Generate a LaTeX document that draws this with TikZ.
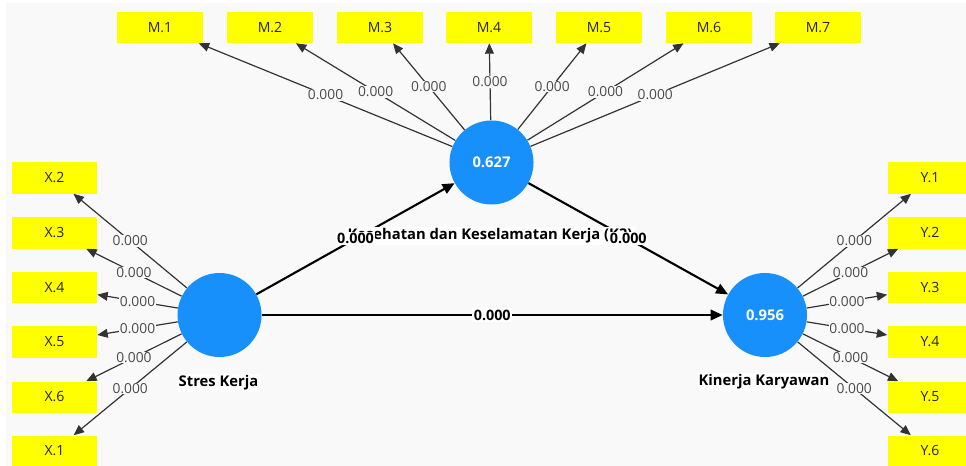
\documentclass[tikz,border=0pt]{standalone}
\usepackage{fontspec}
\setmainfont{Open Sans}
\usepackage{xcolor}
\definecolor{myellow}{HTML}{FFFF00}
\definecolor{mblue}{HTML}{1890FB}
\definecolor{mback}{HTML}{F9F9F9}
\definecolor{mgray}{HTML}{4A4A4A}
\usepackage{tikz}
\usetikzlibrary{arrows.meta}

\begin{document}
\begin{tikzpicture}[x=0.025cm, y=-0.025cm,
        ind/.style={fill=myellow, minimum width=2.125cm, minimum height=0.775cm, inner sep=0pt,
            font=\fontsize{10}{12}\selectfont, text=black!85},
        lv/.style={circle, fill=mblue, minimum size=2.1cm, inner sep=0pt, text=white,
            font=\bfseries\fontsize{10.5}{12}\selectfont},
        lvname/.style={fill=white, inner sep=1.5pt, font=\bfseries\fontsize{10.5}{12}\selectfont},
        load/.style={draw=black!80, line width=0.85pt, -{Triangle[length=2.6mm, width=2.2mm]}},
        lval/.style={fill=mback, inner sep=0.5pt, text=mgray, font=\fontsize{9.8}{11}\selectfont},
        path/.style={draw=black, line width=1.5pt, -{Triangle[length=3mm, width=2.6mm]}},
        pval/.style={fill=white, inner sep=1pt, font=\bfseries\fontsize{10.2}{12}\selectfont}]
        \useasboundingbox (0, 0) rectangle (966, 466);
        \clip (0, 0) rectangle (966, 466);
        \fill[mback] (6, 3) rectangle (966, 466);

        % indicator boxes
        \node[ind] (m1) at (160, 27.5) {M.1};
        \node[ind] (m2) at (270, 27.5) {M.2};
        \node[ind] (m3) at (380, 27.5) {M.3};
        \node[ind] (m4) at (489, 27.5) {M.4};
        \node[ind] (m5) at (599, 27.5) {M.5};
        \node[ind] (m6) at (709, 27.5) {M.6};
        \node[ind] (m7) at (818, 27.5) {M.7};

        \node[ind] (x2) at (54.5, 178) {X.2};
        \node[ind] (x3) at (54.5, 233) {X.3};
        \node[ind] (x4) at (54.5, 287.5) {X.4};
        \node[ind] (x5) at (54.5, 342) {X.5};
        \node[ind] (x6) at (54.5, 397) {X.6};
        \node[ind] (x1) at (54.5, 451) {X.1};

        \node[ind] (y1) at (930, 178) {Y.1};
        \node[ind] (y2) at (930, 233) {Y.2};
        \node[ind] (y3) at (930, 287.5) {Y.3};
        \node[ind] (y4) at (930, 342) {Y.4};
        \node[ind] (y5) at (930, 397) {Y.5};
        \node[ind] (y6) at (930, 451) {Y.6};

        % latent variables
        \node[lv] (sk) at (219.5, 315) {};
        \node[lv] (k3) at (491.5, 162.5) {0.627};
        \node[lv] (kk) at (765, 315) {0.956};

        % outer loadings
        \draw[load] (k3) -- node[lval]{0.000} (m1);
        \draw[load] (k3) -- node[lval]{0.000} (m2);
        \draw[load] (k3) -- node[lval]{0.000} (m3);
        \draw[load] (k3) -- node[lval]{0.000} (m4);
        \draw[load] (k3) -- node[lval]{0.000} (m5);
        \draw[load] (k3) -- node[lval]{0.000} (m6);
        \draw[load] (k3) -- node[lval]{0.000} (m7);

        \draw[load] (sk) -- node[lval]{0.000} (x2);
        \draw[load] (sk) -- node[lval]{0.000} (x3);
        \draw[load] (sk) -- node[lval]{0.000} (x4);
        \draw[load] (sk) -- node[lval]{0.000} (x5);
        \draw[load] (sk) -- node[lval]{0.000} (x6);
        \draw[load] (sk) -- node[lval]{0.000} (x1);

        \draw[load] (kk) -- node[lval]{0.000} (y1);
        \draw[load] (kk) -- node[lval]{0.000} (y2);
        \draw[load] (kk) -- node[lval]{0.000} (y3);
        \draw[load] (kk) -- node[lval]{0.000} (y4);
        \draw[load] (kk) -- node[lval]{0.000} (y5);
        \draw[load] (kk) -- node[lval]{0.000} (y6);

        % inner paths
        \draw[path] (sk) -- (k3);
        \draw[path] (k3) -- (kk);
        \draw[path] (sk) -- (kk);

        % names
        \node[lvname] (skname) at (218.5, 383) {Stres Kerja};
        \node[lvname] (kkname) at (764, 382) {Kinerja Karyawan};
        \node[lvname] (k3name) at (490, 236) {Kesehatan dan Keselamatan Kerja (K3)};

        % path coefficients
        \path (sk) -- node[pval]{0.000} (k3);
        \path (k3) -- node[pval]{0.000} (kk);
        \path (sk) -- node[pval]{0.000} (kk);
    \end{tikzpicture}
\end{document}
